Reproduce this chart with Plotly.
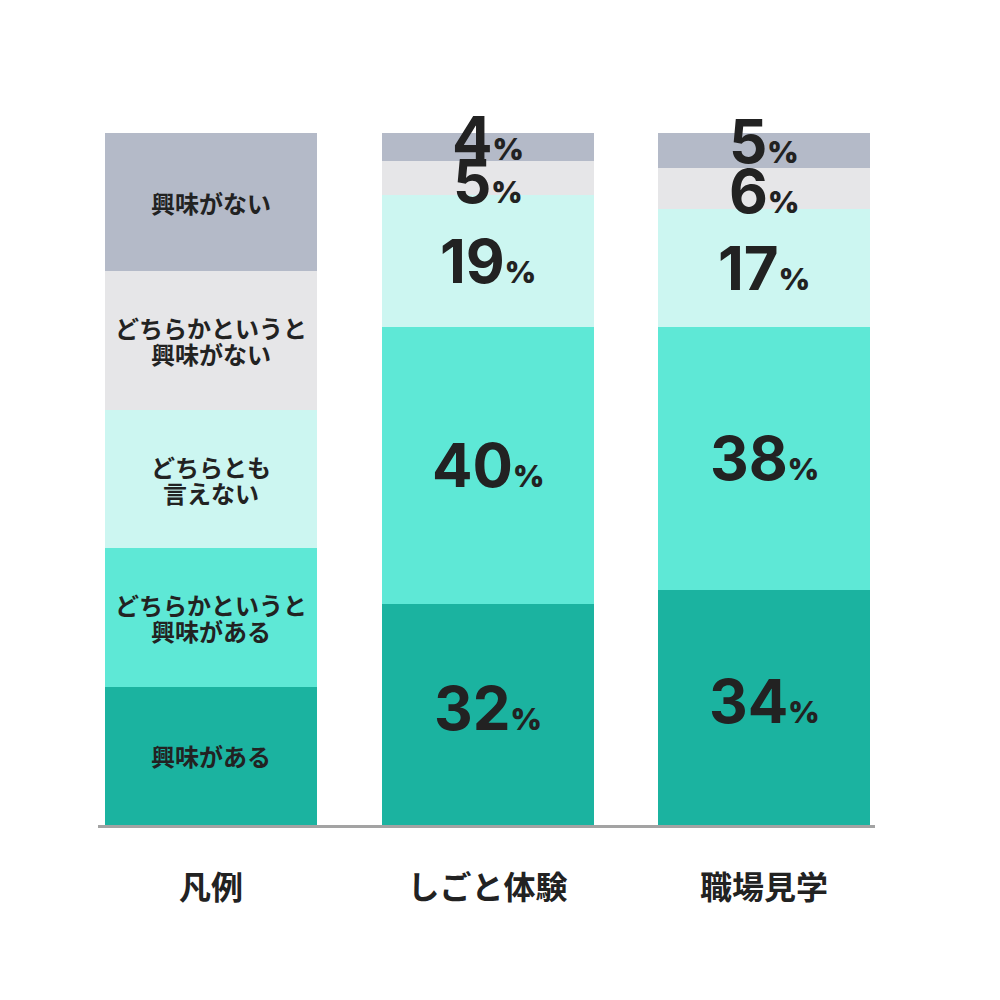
import plotly.graph_objects as go

categories = ["凡例", "しごと体験", "職場見学"]
series_names = ["興味がある", "どちらかというと興味がある", "どちらとも言えない",
                "どちらかというと興味がない", "興味がない"]
legend_labels = ["興味がある", "どちらかというと<br>興味がある", "どちらとも<br>言えない",
                 "どちらかというと<br>興味がない", "興味がない"]
legend_values = [20, 20, 20, 20, 20]
shigoto_values = [32, 40, 19, 5, 4]
shokuba_values = [34, 38, 17, 6, 5]
colors = ["#1BB3A0", "#5EE8D6", "#CCF6F1", "#E6E6E8", "#B4BAC8"]

data_by_cat = [legend_values, shigoto_values, shokuba_values]
xs = [0, 1, 2]

fig = go.Figure()
for i, name in enumerate(series_names):
    fig.add_trace(go.Bar(
        x=xs, y=[d[i] for d in data_by_cat], name=name,
        marker=dict(color=colors[i], line=dict(width=0)),
        width=0.767, showlegend=False, hoverinfo="skip",
    ))

annotations = []
# legend bar labels (one annotation per line for tighter line spacing)
line_gap = 26
cum = 0
for i, v in enumerate(legend_values):
    lines = legend_labels[i].split("<br>")
    n = len(lines)
    for k, ln in enumerate(lines):
        annotations.append(dict(
            x=0, y=cum + v / 2, xref="x", yref="y", text="<b>" + ln + "</b>",
            showarrow=False, yshift=((n - 1) / 2 - k) * line_gap,
            font=dict(size=24, color="#222222", family="Noto Sans CJK JP"),
            yanchor="middle", xanchor="center"))
    cum += v

# value labels
for ci, vals in [(1, shigoto_values), (2, shokuba_values)]:
    cum = 0
    for i, v in enumerate(vals):
        shift = 0
        if i == len(vals) - 1:
            shift = 9
        elif i == len(vals) - 2:
            shift = -3
        elif i == 0:
            shift = 6
        annotations.append(dict(
            x=ci, y=cum + v / 2, xref="x", yref="y",
            text=f"<b>{v}</b><span style='font-size:30px'>%</span>",
            showarrow=False, yshift=shift,
            font=dict(size=60, color="#222222", family="Inter", weight=900),
            yanchor="middle", xanchor="center"))
        cum += v

fig.update_layout(
    barmode="stack",
    width=1000, height=1000,
    margin=dict(l=90, r=133, t=125, b=183),
    paper_bgcolor="white", plot_bgcolor="white",
    bargap=0,
    annotations=annotations,
    xaxis=dict(
        range=[-0.409, 2.401], tickmode="array", tickvals=xs,
        ticktext=["<b>" + c + "</b>" for c in categories],
        tickfont=dict(size=32, color="#222222", family="Noto Sans CJK JP"),
        showline=True, linecolor="#A3A3A3", linewidth=3,
        showgrid=False, zeroline=False, ticks="", ticklabelstandoff=33,
    ),
    yaxis=dict(range=[0, 100], visible=False, showgrid=False, zeroline=False),
)

fig.write_html("out.html")
